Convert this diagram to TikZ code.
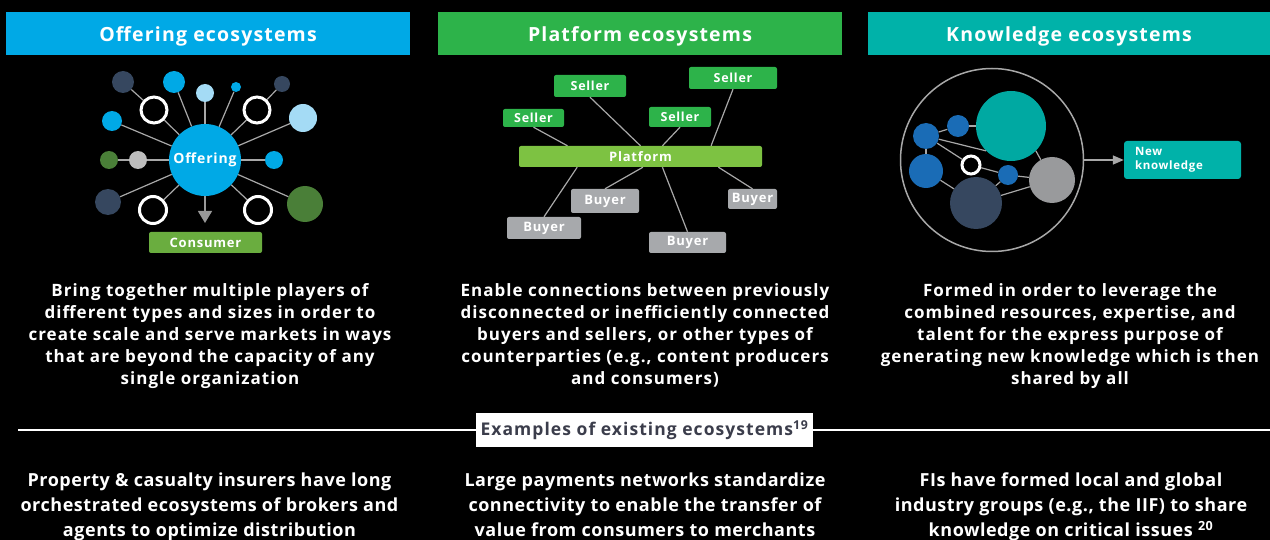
\documentclass[tikz,border=0pt]{standalone}
\usepackage{fontspec}
\setmainfont{Open Sans}[LetterSpace=6]
\newfontfamily\tightfont{Open Sans}[LetterSpace=3]
\usetikzlibrary{calc,arrows.meta}
\definecolor{offblue}{HTML}{00A9E6}
\definecolor{platgreen}{HTML}{2DB34A}
\definecolor{knowteal}{HTML}{00B2A9}
\definecolor{limegreen}{HTML}{7DC242}
\definecolor{consgreen}{HTML}{6AAD3F}
\definecolor{buygray}{HTML}{A7A9AC}
\definecolor{navy}{HTML}{36475F}
\definecolor{lightblue}{HTML}{A4DBF5}
\definecolor{darkgreen}{HTML}{4A7F38}
\definecolor{dotgray}{HTML}{BDBDBD}
\definecolor{kblue}{HTML}{1A6CB6}
\definecolor{bigteal}{HTML}{00A9A2}
\definecolor{biggray}{HTML}{999A9C}
\definecolor{linegray}{HTML}{A8A8A8}
\definecolor{labeltext}{HTML}{3B3D4B}
\tikzset{
  header/.style={fill=#1, minimum height=43, inner sep=0, text=white,
    text height=17, text depth=0,
    font=\fontsize{19.5}{23}\selectfont\bfseries},
  dot/.style 2 args={circle, fill=#1, minimum size=#2, inner sep=0},
  ring/.style={circle, draw=white, line width=3, minimum size=#1, inner sep=0},
  link/.style={draw=linegray, line width=1.2},
  tag/.style={fill=#1, rounded corners=2, inner sep=0, text=white,
    font=\fontsize{13}{15}\selectfont\bfseries},
  blurb/.style={anchor=north, align=center, text=white, inner sep=0,
    font=\fontsize{17}{22}\selectfont\bfseries},
  example/.style={anchor=north, align=center, text=white, inner sep=0,
    font=\tightfont\fontsize{18}{25}\selectfont\bfseries},
}
\begin{document}
\begin{tikzpicture}[x=1pt, y=-1pt]
      \def\hw{404};
      %
      \fill[black] (0,0) rectangle (1270,540);   % page
      \useasboundingbox (0,0) rectangle (1270,540);
      %
      % headers
      \node[header=offblue, minimum width=\hw] (h1) at (208,33.5) {Offering ecosystems};
      \node[header=platgreen, minimum width=\hw] (h2) at (640,33.5) {Platform ecosystems};
      \node[header=knowteal, minimum width=402] (h3) at (1069,33.5) {Knowledge ecosystems};
      %
      % offering hub
      \node[dot={offblue}{72}, text=white, font=\fontsize{14}{16}\selectfont\bfseries] (off) at (205,160) {Offering};
      \node[dot={navy}{22}] (o1) at (123,82) {};
      \node[ring=26] (r1) at (154,110) {};
      \node[dot={offblue}{22}] (o2) at (174,82) {};
      \node[dot={lightblue}{18}] (o3) at (205,93) {};
      \node[dot={offblue}{10}] (o4) at (236,87) {};
      \node[dot={navy}{16}] (o5) at (282,84) {};
      \node[ring=26] (r2) at (257,110) {};
      \node[dot={lightblue}{28}] (o6) at (303,118) {};
      \node[dot={offblue}{20}] (o7) at (112,121) {};
      \node[dot={darkgreen}{18}] (o8) at (109,160) {};
      \node[dot={dotgray}{18}] (o9) at (138,160) {};
      \node[dot={offblue}{18}] (o10) at (274,160) {};
      \node[dot={navy}{26}] (o11) at (108,202) {};
      \node[ring=27] (r3) at (153,210) {};
      \node[ring=27] (r4) at (258,210) {};
      \node[dot={darkgreen}{36}] (o12) at (305,204) {};
      %
      \foreach \n in {r1,o2,o3,o4,r2,o6,o7,o9,o10,o11,r3,r4,o12}
        \draw[link] (off) -- (\n);
      \draw[link] (r1) -- (o1);
      \draw[link] (r2) -- (o5);
      \draw[link] (o9) -- (o8);
      %
      \node[tag=consgreen, minimum width=113, minimum height=21] (cons) at (205.5,242.5) {Consumer};
      \coordinate (tip) at (205,223);
      \draw[arrows={-{Triangle[length=12,width=14]}}, draw=gray!80, fill=gray!80, line width=1.2] (off) -- (tip);
      %
      % platform
      \node[tag=limegreen, minimum width=243, minimum height=21] (plat) at (640.5,156.5) {Platform};
      \node[tag=platgreen, minimum width=72, minimum height=22, font=\fontsize{12.5}{15}\selectfont\bfseries] (s1) at (590,86) {Seller};
      \node[tag=platgreen, minimum width=88, minimum height=22, font=\fontsize{12.5}{15}\selectfont\bfseries] (s2) at (733,78) {Seller};
      \node[tag=platgreen, minimum width=61, minimum height=18, font=\fontsize{12.5}{15}\selectfont\bfseries] (s3) at (533.5,118) {Seller};
      \node[tag=platgreen, minimum width=62, minimum height=20, font=\fontsize{12.5}{15}\selectfont\bfseries] (s4) at (680,117) {Seller};
      \node[tag=buygray, minimum width=68, minimum height=24] (b1) at (605,201) {Buyer};
      \node[tag=buygray, minimum width=74, minimum height=22] (b2) at (544,228) {Buyer};
      \node[tag=buygray, minimum width=77, minimum height=21] (b3) at (687.5,242.5) {Buyer};
      \node[tag=buygray, minimum width=49, minimum height=20] (b4) at (752.5,199) {Buyer};
      %
      \draw[link] ($(plat.north west)!0.20!(plat.north east)$) -- (s3.south);
      \draw[link] ($(plat.north west)!0.50!(plat.north east)$) -- (s1.south);
      \draw[link] ($(plat.north west)!0.59!(plat.north east)$) -- (s4.south);
      \draw[link] ($(plat.north west)!0.79!(plat.north east)$) -- (s2.south);
      \draw[link] ($(plat.south west)!0.24!(plat.south east)$) -- (b2.north);
      \draw[link] ($(plat.south west)!0.51!(plat.south east)$) -- (b1.north);
      \draw[link] ($(plat.south west)!0.59!(plat.south east)$) -- (b3.north);
      \draw[link] ($(plat.south west)!0.82!(plat.south east)$) -- (b4.north);
      %
      % knowledge
      \node[circle, draw=linegray, line width=1.5, minimum size=183, inner sep=0] (kring) at (992,160) {};
      \node[dot={kblue}{26}] (k1) at (926,136) {};
      \node[dot={kblue}{22}] (k2) at (958,126) {};
      \node[dot={bigteal}{70}] (k3) at (1011,126) {};
      \node[dot={kblue}{34}] (k4) at (926,171) {};
      \node[ring=18] (kr) at (971,165) {};
      \node[dot={kblue}{20}] (k5) at (1008,175) {};
      \node[dot={biggray}{46}] (k6) at (1052,180) {};
      \node[dot={navy}{52}] (k7) at (976,203) {};
      %
      \draw[link] (k1) -- (k2);
      \draw[link] (k2) -- (k3);
      \draw[link] (k1) -- (k4);
      \draw[link] (k1) -- (kr);
      \draw[link] (k1) -- (k3.225);
      \draw[link] (k3.315) -- (k6);
      \draw[link] (kr) -- (k5);
      \draw[link] (k5) -- (k6);
      \draw[link] (k5) -- (k7);
      \draw[link] (k4) -- (k7);
      \draw[link] (k7) -- (k6);
      %
      \node[fill=knowteal, rounded corners=3, text=white, text width=95, inner xsep=11,
        minimum height=38, align=left, font=\fontsize{11.5}{14}\selectfont\bfseries] (newk) at (1182.5,160) {New\\knowledge};
      \draw[arrows={-{Triangle[length=11,width=9]}}, draw=linegray, fill=linegray, line width=1.5] (kring) -- (newk);
      %
      % descriptions
      \node[blurb] (d1) at (210,283) {Bring together multiple players of\\different types and sizes in order to\\create scale and serve markets in ways\\that are beyond the capacity of any\\single organization};
      \node[blurb] (d2) at (645,283) {Enable connections between previously\\disconnected or inefficiently connected\\buyers and sellers, or other types of\\counterparties (e.g., content producers\\and consumers)};
      \node[blurb] (d3) at (1070,283) {Formed in order to leverage the\\combined resources, expertise, and\\talent for the express purpose of\\generating new knowledge which is then\\shared by all};
      %
      % examples band
      \node[fill=white, minimum width=337, minimum height=34, inner sep=0, text=labeltext,
        font=\fontsize{17.5}{20}\selectfont\bfseries] (ex) at (644.5,430) {Examples of existing ecosystems\textsuperscript{19}};
      \coordinate (lineL) at (18,430);
      \coordinate (lineR) at (1270,430);
      \draw[white, line width=2] (lineL) -- (ex.west);
      \draw[white, line width=2] (ex.east) -- (lineR);
      %
      \node[example] (e1) at (209.5,473) {Property \& casualty insurers have long\\orchestrated ecosystems of brokers and\\agents to optimize distribution};
      \node[example] (e2) at (645,473) {Large payments networks standardize\\connectivity to enable the transfer of\\value from consumers to merchants};
      \node[example] (e3) at (1071,473) {FIs have formed local and global\\industry groups (e.g., the IIF) to share\\knowledge on critical issues \textsuperscript{20}};
      %
    \end{tikzpicture}
\end{document}
